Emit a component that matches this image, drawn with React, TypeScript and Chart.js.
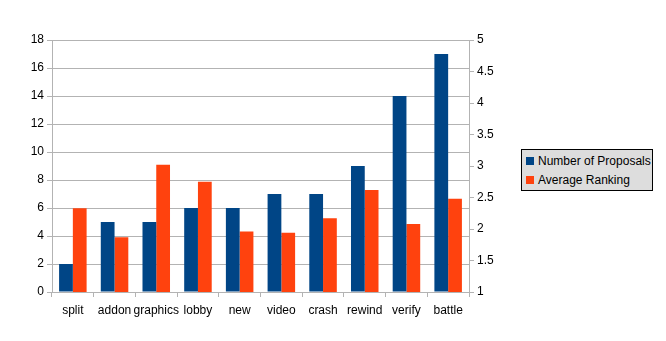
import React, { useEffect, useRef } from "react";
import { Chart, registerables } from "chart.js";

Chart.register(...registerables);

const categories = ["split", "addon", "graphics", "lobby", "new", "video", "crash", "rewind", "verify", "battle"];
const proposals = [2, 5, 5, 6, 6, 7, 7, 9, 14, 17];
const ranking = [2.33, 1.87, 3.02, 2.75, 1.96, 1.94, 2.17, 2.62, 2.08, 2.48];
const seriesNames = ["Number of Proposals", "Average Ranking"];
const seriesColors = ["#004586", "#ff420e"];

const FONT = "'Liberation Sans', Arial, sans-serif";
const GRID = "#b3b3b3";

export default function App() {
  const ref = useRef<HTMLCanvasElement | null>(null);

  useEffect(() => {
    document.body.style.margin = "0";
    const ctx = ref.current!;
    const chart = new Chart(ctx, {
      type: "bar",
      data: {
        labels: categories,
        datasets: [
          {
            label: seriesNames[0],
            data: proposals,
            backgroundColor: seriesColors[0],
            yAxisID: "y",
            categoryPercentage: 0.66,
            barPercentage: 1,
          },
          {
            label: seriesNames[1],
            data: ranking,
            backgroundColor: seriesColors[1],
            yAxisID: "y1",
            categoryPercentage: 0.66,
            barPercentage: 1,
          },
        ],
      },
      options: {
        responsive: false,
        animation: false,
        devicePixelRatio: 1,
        layout: { padding: { left: 0, right: 157, top: 40, bottom: 19 } },
        plugins: { legend: { display: false }, tooltip: { enabled: false } },
        scales: {
          x: {
            offset: true,
            grid: { offset: true, drawOnChartArea: false, drawTicks: true, tickLength: 5, color: GRID },
            border: { display: true, color: GRID },
            ticks: { color: "#000", font: { family: FONT, size: 12 }, padding: 6, maxRotation: 0, autoSkip: false },
            afterFit: (s: any) => { s.height = 30; },
          },
          y: {
            position: "left",
            min: 0,
            max: 18,
            ticks: { stepSize: 2, color: "#000", font: { family: FONT, size: 12 }, padding: 3 },
            grid: { color: GRID, tickLength: 5, drawTicks: true },
            border: { display: true, color: GRID },
            afterFit: (s: any) => { s.width = 52; },
          },
          y1: {
            position: "right",
            min: 1,
            max: 5,
            ticks: {
              stepSize: 0.5,
              color: "#000",
              font: { family: FONT, size: 12 },
              padding: 3,
              callback: (v: any) => String(Number(v)),
            },
            grid: { color: GRID, tickLength: 5, drawTicks: true, drawOnChartArea: false },
            border: { display: true, color: GRID },
            afterFit: (s: any) => { s.width = 40; },
          },
        },
      },
    });
    return () => chart.destroy();
  }, []);

  return (
    <div style={{ position: "relative", width: 666, height: 341 }}>
      <canvas ref={ref} width={666} height={341} style={{ display: "block" }} />
      <div
        style={{
          position: "absolute",
          left: 521,
          top: 149,
          width: 130,
          height: 40,
          background: "#dddddd",
          border: "1px solid #000",
          fontFamily: FONT,
          fontSize: 12,
          color: "#000",
        }}
      >
        {seriesNames.map((n, i) => (
          <div key={n} style={{ position: "absolute", left: 4, top: 4 + i * 19, height: 14, display: "flex", alignItems: "center", whiteSpace: "nowrap" }}>
            <span style={{ display: "inline-block", width: 8, height: 8, background: seriesColors[i], marginRight: 4 }} />
            <span>{n}</span>
          </div>
        ))}
      </div>
    </div>
  );
}
